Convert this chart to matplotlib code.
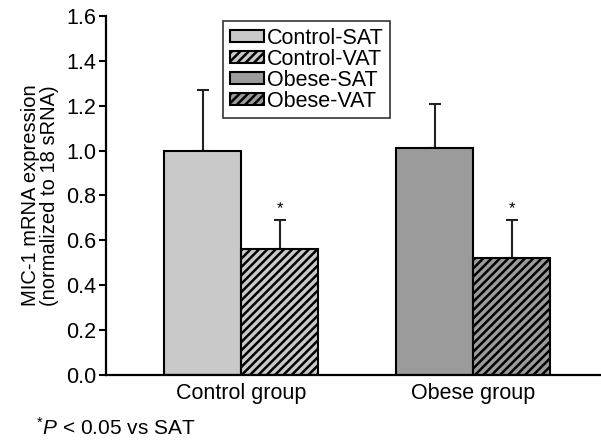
import numpy as np
import matplotlib
matplotlib.use("Agg")
import matplotlib.pyplot as plt

plt.rcParams["font.family"] = ["Liberation Sans", "DejaVu Sans"]
plt.rcParams["mathtext.fontset"] = "custom"
plt.rcParams["mathtext.rm"] = "Liberation Sans"
plt.rcParams["mathtext.it"] = "Liberation Sans:italic"
plt.rcParams["hatch.linewidth"] = 1.8

# MIC-1 expression per group and fat depot
groups = ["Control group", "Obese group"]
series = ["Control-SAT", "Control-VAT", "Obese-SAT", "Obese-VAT"]
means = [1.00, 0.56, 1.01, 0.52]
errors = [0.27, 0.13, 0.20, 0.17]
significant = [False, True, False, True]
yticks = [0.0, 0.2, 0.4, 0.6, 0.8, 1.0, 1.2, 1.4, 1.6]

fills = ["#c9c9c9", "#c9c9c9", "#9b9b9b", "#9b9b9b"]
hatches = [None, "////", None, "////"]

fig = plt.figure(figsize=(6.01, 4.41), dpi=100)
ax = fig.add_axes([0.1764, 0.1497, 0.822, 0.814])

width = 0.332
xpos = [0 - width / 2, 0 + width / 2, 1 - width / 2, 1 + width / 2]

for i in range(4):
    ax.bar(xpos[i], means[i], width=width, color=fills[i], hatch=hatches[i],
           edgecolor="black", linewidth=1.5, label=series[i], zorder=2)
    ax.errorbar(xpos[i], means[i], yerr=[[0], [errors[i]]], fmt="none",
                ecolor="#222222", elinewidth=1.5, capsize=4.5, capthick=1.5,
                zorder=1)
    if significant[i]:
        ax.text(xpos[i], means[i] + errors[i] + 0.02, "*", ha="center",
                va="bottom", fontsize=12)

ax.set_xlim(-0.582, 1.547)
ax.set_ylim(0, 1.6)
ax.set_yticks(yticks)
ax.set_yticklabels(["%.1f" % t for t in yticks], fontsize=15.5)
ax.set_xticks([0, 1])
ax.set_xticklabels(groups, fontsize=15.5)
ax.tick_params(axis="x", length=0, pad=6)
ax.tick_params(axis="y", direction="out", length=5, width=1.5, pad=2)

for side in ["top", "right"]:
    ax.spines[side].set_visible(False)
for side in ["left", "bottom"]:
    ax.spines[side].set_linewidth(1.6)

ax.set_ylabel("MIC-1 mRNA expression\n(normalized to 18 sRNA)", fontsize=14.5,
              linespacing=1.0, labelpad=5)

leg = ax.legend(loc="upper left", bbox_to_anchor=(0.237, 0.985), fontsize=15.5,
                frameon=True, fancybox=False, edgecolor="black",
                handlelength=1.6, handleheight=0.45, handletextpad=0.15,
                labelspacing=0.0, borderpad=0.3, borderaxespad=0)
leg.get_frame().set_linewidth(1.2)

fig.text(0.06, 0.014, r"$^{*}P$ < 0.05 vs SAT", fontsize=15)

fig.savefig("out.png", dpi=100)
